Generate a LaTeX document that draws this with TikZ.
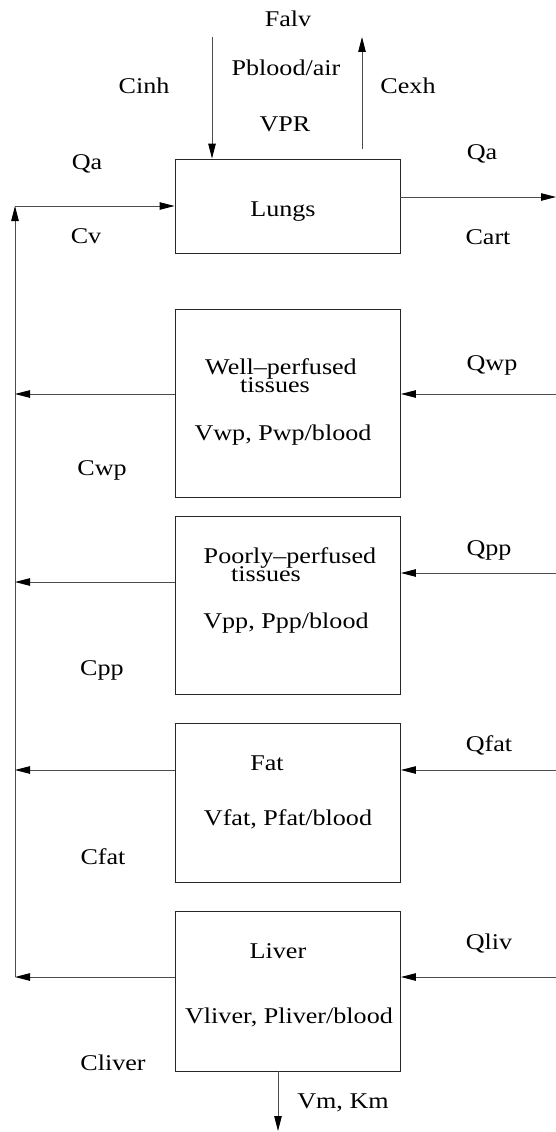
\documentclass[tikz,border=0pt]{standalone}
\usepackage{fontspec}
\setmainfont{Liberation Serif}[FakeStretch=1.16]
\usetikzlibrary{arrows.meta}
\begin{document}
\begin{tikzpicture}[x=1pt,y=-1pt,
  box/.style={draw=black!85, line width=0.9pt, inner sep=0pt, minimum width=225pt},
  flow/.style={draw=black!70, line width=0.9pt, -{Triangle[length=15pt,width=7.5pt,color=black]}},
  lbl/.style={inner sep=0pt, anchor=base, font=\fontsize{22.5}{24}\selectfont}]
\useasboundingbox (0,0) rectangle (556,1132);

% compartments
\node[box, minimum height=94pt]  (lungs) at (287.5,206) {};
\node[box, minimum height=188pt] (well)  at (288,403) {};
\node[box, minimum height=178pt] (poor)  at (288,605) {};
\node[box, minimum height=159pt] (fat)   at (288,802.5) {};
\node[box, minimum height=160pt] (liver) at (288,991) {};

% free ends of the flows
\coordinate (inhtop) at (212,37);
\coordinate (exhbot) at (362,149);
\coordinate (exhtop) at (362,37);
\coordinate (artout) at (556,197);
\coordinate (vcorner) at (15,206);
\coordinate (vbottom) at (15,977);
\coordinate (wpout) at (15,394);
\coordinate (wpin) at (556,394);
\coordinate (ppout) at (15,582);
\coordinate (ppin) at (556,573);
\coordinate (fatout) at (15,770);
\coordinate (fatin) at (556,770);
\coordinate (livout) at (15,977);
\coordinate (livin) at (556,977);
\coordinate (metab) at (278,1131);

% lungs
\draw[flow] (inhtop) -- (inhtop |- lungs.north);
\draw[flow] (exhbot) -- (exhtop);
\draw[flow] (lungs.east |- artout) -- (artout);
\draw[flow] (vcorner) -- (lungs.west);
\draw[flow] (vbottom) -- (vcorner);

% tissues
\draw[flow] (well.west |- wpout) -- (wpout);
\draw[flow] (wpin) -- (well.east |- wpin);
\draw[flow] (poor.west |- ppout) -- (ppout);
\draw[flow] (ppin) -- (poor.east |- ppin);
\draw[flow] (fat.west |- fatout) -- (fatout);
\draw[flow] (fatin) -- (fat.east |- fatin);
\draw[flow] (liver.west |- livout) -- (livout);
\draw[flow] (livin) -- (liver.east |- livin);
\draw[flow] (liver.south -| metab) -- (metab);

% labels
\node[lbl] (tfalv) at (288,27) {Falv};
\node[lbl] (tpba) at (286,76) {Pblood/air};
\node[lbl] (tvpr) at (285,131) {VPR};
\node[lbl] (tcinh) at (144,93) {Cinh};
\node[lbl] (tcexh) at (408,93) {Cexh};
\node[lbl] (tqa1) at (87,169) {Qa};
\node[lbl] (tcv) at (86,243) {Cv};
\node[lbl] (tlungs) at (283,216) {Lungs};
\node[lbl] (tqa2) at (482,159) {Qa};
\node[lbl] (tcart) at (488,244) {Cart};

\node[lbl] (twell) at (281,374) {Well–perfused};
\node[lbl] (twt) at (275,392) {tissues};
\node[lbl] (tvwp) at (283,440) {Vwp, Pwp/blood};
\node[lbl] (tqwp) at (492,370) {Qwp};
\node[lbl] (tcwp) at (102,475) {Cwp};

\node[lbl] (tpoor) at (290,563) {Poorly–perfused};
\node[lbl] (tpt) at (266,581) {tissues};
\node[lbl] (tvpp) at (286,628) {Vpp, Ppp/blood};
\node[lbl] (tqpp) at (489,555) {Qpp};
\node[lbl] (tcpp) at (102,675) {Cpp};

\node[lbl] (tfat) at (267,770) {Fat};
\node[lbl] (tvfat) at (288,825) {Vfat, Pfat/blood};
\node[lbl] (tqfat) at (489,751) {Qfat};
\node[lbl] (tcfat) at (103,864) {Cfat};

\node[lbl] (tliver) at (278,958) {Liver};
\node[lbl] (tvliv) at (289,1023) {Vliver, Pliver/blood};
\node[lbl] (tqliv) at (489,949) {Qliv};
\node[lbl] (tcliv) at (113,1070) {Cliver};
\node[lbl] (tvmkm) at (343,1108) {Vm, Km};
\end{tikzpicture}
\end{document}
